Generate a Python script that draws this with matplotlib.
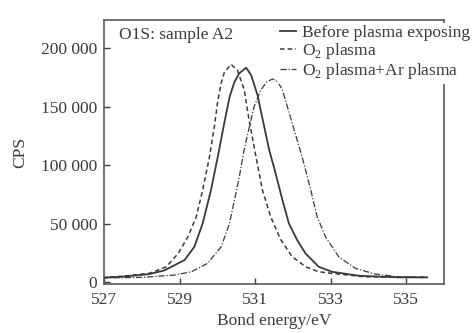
import matplotlib.pyplot as plt
from matplotlib.ticker import FixedLocator

plt.rcParams['font.family'] = ['Liberation Serif', 'DejaVu Serif']
plt.rcParams['mathtext.fontset'] = 'custom'
plt.rcParams['mathtext.rm'] = 'Liberation Serif'

# O1s spectra, sample A2
before_ev = [526.95, 527.45, 528.2, 528.6, 528.87, 529.13, 529.39, 529.61, 529.83,
             530.01, 530.18, 530.32, 530.45, 530.58, 530.76, 530.89, 531.06, 531.19,
             531.37, 531.54, 531.72, 531.89, 532.11, 532.33, 532.68, 533.03, 533.74,
             534.79, 535.55]
before_cps = [3800, 4500, 6800, 10000, 14500, 18800, 30200, 50200, 78700,
              107100, 135700, 158000, 171000, 178500, 183200, 177000, 160000, 140000,
              113000, 92900, 70100, 50200, 35900, 24500, 13100, 8800, 5400,
              4000, 4000]

o2_ev = [526.95, 527.5, 528.2, 528.65, 528.96, 529.22, 529.44, 529.61, 529.79,
         529.92, 530.01, 530.1, 530.18, 530.36, 530.53, 530.71, 530.84, 531.02,
         531.19, 531.41, 531.68, 531.98, 532.16, 532.33, 532.68, 533.03, 533.91,
         535.55]
o2_cps = [3800, 5000, 7500, 13000, 24500, 38700, 55800, 78700, 107100,
          133000, 155000, 170000, 179000, 186100, 181000, 164200, 138000, 107100,
          78700, 55800, 35900, 21600, 17400, 13100, 8800, 7400, 4500,
          4000]

o2ar_ev = [526.95, 528.0, 528.87, 529.31, 529.74, 530.1, 530.32, 530.45, 530.58,
           530.7, 530.84, 530.97, 531.15, 531.3, 531.46, 531.6, 531.72, 531.85,
           531.98, 532.24, 532.47, 532.64, 532.86, 533.21, 533.65, 534.18, 534.79,
           535.55]
o2ar_cps = [3500, 4000, 6000, 8800, 16000, 30200, 50200, 70000, 90000,
            112000, 132000, 150000, 164200, 171000, 173600, 171000, 164200, 150000,
            135700, 107100, 78700, 55800, 38700, 21600, 11700, 6800, 4500,
            4200]

x_ticks = [527, 529, 531, 533, 535]
y_ticks = [0, 50000, 100000, 150000, 200000]
y_ticklabels = ['0', '50 000', '100 000', '150 000', '200 000']

ink = '#3a3a3a'
fs = 12.5
fig = plt.figure(figsize=(4.73, 3.33), dpi=100)
ax = fig.add_axes([0.22, 0.147, 0.719, 0.793])

ax.plot(before_ev, before_cps, color=ink, lw=1.3, ls='-', label='Before plasma exposing')
ax.plot(o2_ev, o2_cps, color=ink, lw=1.1, ls=(0, (3, 2)),
        label='O$_\\mathregular{2}$ plasma')
ax.plot(o2ar_ev, o2ar_cps, color=ink, lw=0.9, ls=(0, (5, 1.5, 1, 1.5)),
        label='O$_\\mathregular{2}$ plasma+Ar plasma')

ax.set_xlim(527, 536)
ax.set_ylim(-1700, 224000)
ax.xaxis.set_major_locator(FixedLocator(x_ticks))
ax.set_yticks(y_ticks)
ax.set_yticklabels(y_ticklabels)
ax.tick_params(direction='in', length=4, width=1, colors=ink, labelsize=fs)
ax.tick_params(axis='x', pad=6)
ax.tick_params(axis='y', pad=5)
for s in ax.spines.values():
    s.set_color('#5a5a5a')
    s.set_linewidth(1.2)

ax.set_xlabel('Bond energy/eV', fontsize=fs, color=ink, labelpad=3)
ax.set_ylabel('CPS', fontsize=fs, color=ink, labelpad=9)
ax.text(0.045, 0.975, 'O1S: sample A2', transform=ax.transAxes, fontsize=fs,
        color=ink, va='top', ha='left')

leg = ax.legend(loc='upper left', bbox_to_anchor=(0.51, 0.99), fontsize=fs,
                frameon=True, fancybox=False, handlelength=0.9, handletextpad=0.35,
                labelspacing=0.0, borderpad=0.15, borderaxespad=0.0)
leg.get_frame().set_facecolor('white')
leg.get_frame().set_edgecolor('none')
leg.get_frame().set_alpha(1)
for t in leg.get_texts():
    t.set_color(ink)

fig.savefig('out.png', dpi=100)
